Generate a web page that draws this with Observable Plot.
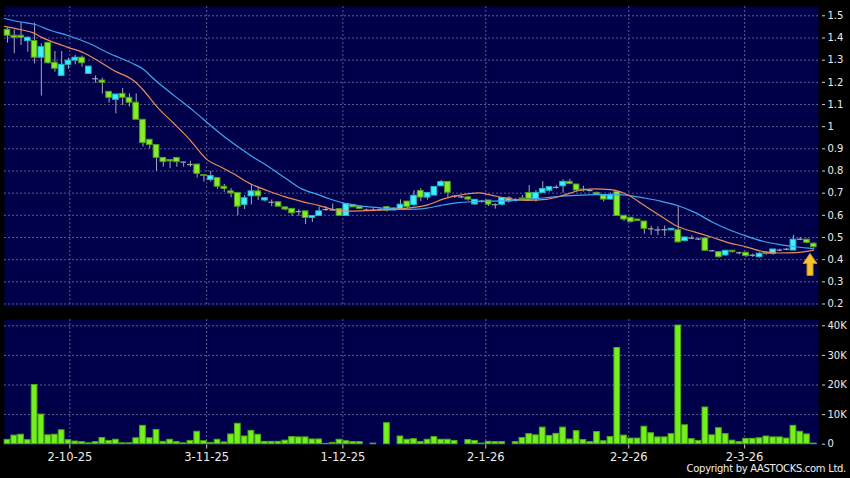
<!DOCTYPE html>
<html><head><meta charset="utf-8">
<script src="https://cdn.jsdelivr.net/npm/d3@7"></script>
<script src="https://cdn.jsdelivr.net/npm/@observablehq/plot@0.6"></script>
<style>
html,body{margin:0;padding:0;background:#000;width:850px;height:478px;overflow:hidden}
#chart{position:relative;width:850px;height:478px}
#chart svg{display:block}
#copy{position:absolute;right:4px;top:463px;color:#f0f0f0;font:10px "DejaVu Sans",sans-serif;letter-spacing:-0.3px;white-space:nowrap}
</style></head><body><div id="chart"><div id="copy">Copyright by AASTOCKS.com Ltd.</div></div>
<script>
// ---- data (one entry per trading day, index 0..119) ----
const opens = [1.437,1.410,1.410,1.386,1.386,1.311,1.378,1.288,1.229,1.279, 1.298,1.311,1.238,1.216,1.208,1.157,1.121,1.148,1.130,1.108, 1.031,0.941,0.917,0.859,0.850,0.859,0.840,0.829,0.829,0.781, 0.759,0.768,0.729,0.708,0.701,0.647,0.686,0.708,0.667,0.659, 0.659,0.636,0.629,0.617,0.618,0.588,0.597,0.626,0.624,0.628, 0.597,0.647,0.639,0.624,0.624,0.626,0.637,0.622,0.627,0.662, 0.646,0.710,0.680,0.689,0.731,0.751,0.686,0.683,0.681,0.649, 0.664,0.667,0.648,0.648,0.677,0.668,0.676,0.701,0.672,0.701, 0.711,0.726,0.731,0.751,0.739,0.716,0.712,0.701,0.690,0.671, 0.705,0.598,0.589,0.581,0.572,0.539,0.534,0.535,0.532,0.533, 0.484,0.497,0.493,0.496,0.440,0.434,0.419,0.440,0.431,0.431, 0.420,0.411,0.431,0.426,0.443,0.447,0.441,0.492,0.490,0.472];
const highs = [1.445,1.437,1.471,1.405,1.467,1.374,1.378,1.339,1.339,1.309, 1.321,1.318,1.271,1.229,1.219,1.157,1.145,1.172,1.148,1.148, 1.031,0.941,0.917,0.859,0.850,0.859,0.840,0.844,0.829,0.781, 0.799,0.768,0.739,0.720,0.701,0.689,0.739,0.724,0.680,0.669, 0.659,0.636,0.629,0.626,0.618,0.597,0.636,0.639,0.651,0.628, 0.651,0.647,0.639,0.628,0.630,0.630,0.640,0.633,0.670,0.662, 0.711,0.720,0.701,0.728,0.757,0.751,0.690,0.686,0.685,0.670, 0.668,0.667,0.652,0.678,0.684,0.675,0.690,0.734,0.712,0.752, 0.727,0.735,0.760,0.762,0.739,0.731,0.716,0.705,0.690,0.700, 0.707,0.600,0.589,0.581,0.572,0.550,0.548,0.552,0.539,0.639, 0.503,0.508,0.497,0.497,0.442,0.434,0.440,0.440,0.434,0.434, 0.425,0.430,0.434,0.446,0.447,0.450,0.509,0.500,0.492,0.476];
const lows = [1.377,1.329,1.366,1.336,1.283,1.138,1.283,1.246,1.229,1.258, 1.279,1.268,1.238,1.196,1.147,1.106,1.058,1.095,1.089,1.031, 0.908,0.900,0.799,0.817,0.810,0.817,0.817,0.817,0.768,0.750, 0.750,0.717,0.704,0.679,0.598,0.626,0.647,0.667,0.660,0.639, 0.639,0.620,0.595,0.595,0.558,0.568,0.597,0.618,0.620,0.597, 0.597,0.636,0.629,0.620,0.618,0.620,0.615,0.620,0.627,0.630, 0.640,0.662,0.668,0.689,0.731,0.680,0.676,0.675,0.664,0.645, 0.655,0.640,0.628,0.642,0.655,0.660,0.670,0.668,0.660,0.701, 0.705,0.718,0.700,0.738,0.706,0.705,0.706,0.690,0.660,0.671, 0.596,0.572,0.565,0.572,0.515,0.510,0.509,0.505,0.532,0.475, 0.480,0.490,0.486,0.437,0.435,0.407,0.415,0.430,0.422,0.410, 0.410,0.408,0.420,0.420,0.436,0.440,0.441,0.486,0.472,0.452];
const closes = [1.410,1.401,1.401,1.401,1.311,1.359,1.286,1.261,1.279,1.298, 1.311,1.286,1.271,1.216,1.198,1.130,1.145,1.130,1.108,1.031, 0.926,0.917,0.859,0.840,0.843,0.840,0.840,0.829,0.787,0.778, 0.777,0.729,0.719,0.699,0.639,0.677,0.708,0.686,0.677,0.659, 0.639,0.626,0.609,0.617,0.588,0.597,0.618,0.626,0.624,0.597, 0.651,0.636,0.629,0.624,0.624,0.626,0.622,0.631,0.648,0.637, 0.688,0.680,0.701,0.728,0.750,0.702,0.686,0.683,0.671,0.670, 0.664,0.648,0.648,0.678,0.662,0.668,0.672,0.674,0.701,0.719, 0.727,0.726,0.751,0.741,0.712,0.712,0.712,0.694,0.671,0.690, 0.597,0.581,0.570,0.574,0.539,0.539,0.534,0.535,0.539,0.478, 0.500,0.497,0.493,0.440,0.440,0.411,0.440,0.434,0.431,0.416, 0.420,0.427,0.426,0.446,0.443,0.447,0.490,0.492,0.476,0.456];
// volume in thousands of shares
const volumes = [1.46,2.9,3.2,1.35,20,10,3.0,3.2,4.7,1.35, 0.9,0.7,0.3,0.7,2.1,1.1,1.5,0.3,0.3,2.0, 6.2,2.0,4.8,0.8,1.5,0.7,0.3,1.1,4.2,1.0, 0.45,1.5,0.6,3.3,6.9,2.6,4.5,3.2,0.8,0.8, 0.8,1.2,2.4,2.3,2.3,1.6,1.6,0.1,0.45,1.5, 1.0,0.7,0.7,0,0.2,0,7.1,0,2.6,1.5, 1.7,0.7,1.5,2.4,1.5,1.5,1.1,0,1.4,1.1, 0.2,0.8,0.7,0.7,0,0.7,2.1,3.4,3.0,5.6, 2.8,3.5,5.6,1.6,4.4,1.4,0.7,4.1,1.0,2.4, 32.5,2.9,1.9,1.9,5.9,3.7,2.3,2.3,3.4,40.1, 6.4,1.7,1.1,12.4,3.0,5.4,3.4,1.2,0.7,1.8, 1.8,2.0,2.6,2.3,2.3,1.9,6.2,4.2,3.3,0.2];
// moving averages (day index, value)
const maFastIdx = [-0.44,2,3.9,5,8.8,11.3,13.7,15.7,18.6,20.1,22.1,24.6,27,29.5,31.7,33.5,36,38.5,41,43.5,46,48.5,50.5,53,55.5,58,60.5,62,64.4,67,69.5,71.5,74,76.5,79.5,82,84.2,86.5,89,90.5,91.8,94,96.5,99.1,101.5,104,106.5,109,111.3,113.8,116.4,119];
const maFastVal = [1.452,1.437,1.422,1.404,1.359,1.332,1.291,1.253,1.208,1.163,1.088,1.013,0.938,0.850,0.815,0.785,0.740,0.710,0.683,0.662,0.644,0.624,0.619,0.621,0.625,0.629,0.638,0.647,0.674,0.692,0.701,0.690,0.676,0.667,0.672,0.690,0.711,0.719,0.716,0.706,0.688,0.644,0.595,0.547,0.524,0.501,0.476,0.458,0.438,0.430,0.432,0.443];
const maSlowIdx = [-0.44,2,4,6,9,12,15,18.6,20,21.6,24.6,27.5,30,32.4,36,38.5,41,43.5,45.5,47.5,49.5,52,55,58,60.5,62,64,66.5,69,74,78,81,84,87,90,92,94,96.5,99,101.5,104,106.5,109,111.5,114,116.5,119];
const maSlowVal = [1.488,1.472,1.462,1.438,1.410,1.376,1.331,1.283,1.260,1.215,1.140,1.070,1.005,0.945,0.868,0.820,0.768,0.718,0.697,0.675,0.656,0.643,0.634,0.627,0.628,0.633,0.645,0.657,0.662,0.666,0.675,0.684,0.690,0.693,0.693,0.688,0.678,0.663,0.643,0.612,0.570,0.535,0.507,0.483,0.468,0.457,0.450];
const priceTicks = [0.2,0.3,0.4,0.5,0.6,0.7,0.8,0.9,1,1.1,1.2,1.3,1.4,1.5];
const volumeTicks = [0,10,20,30,40];
const dateTickIdx = [9.2,29.4,49.5,70.6,91.7,108.8];
const dateTickLabels = ["2-10-25","3-11-25","1-12-25","2-1-26","2-2-26","2-3-26"];
const arrowAt = {i: 118.45, price: 0.428};

// ---- styling ----
const NAVY = "#00004a", GRID = "#5a5a8c", WICK = "#a8a8b4";
const UP_FILL = "#3ff0ff", UP_EDGE = "#20b8c8", DN_FILL = "#84ee2c", DN_EDGE = "#4f9e1a";
const X_DOMAIN = [-0.44, 119.7];
const HALF = 0.42;

const candles = opens.map((o, i) => ({i, o, h: highs[i], l: lows[i], c: closes[i], up: closes[i] > o, flat: Math.abs(closes[i] - o) < 0.003, v: volumes[i]}));
const bodies = candles.filter(d => !d.flat);
const dojis = candles.filter(d => d.flat);
const maFast = maFastIdx.map((x, k) => ({x, y: maFastVal[k]}));
const maSlow = maSlowIdx.map((x, k) => ({x, y: maSlowVal[k]}));
const labelOf = new Map(dateTickIdx.map((d, k) => [d, dateTickLabels[k]]));

const arrowSymbol = {
  draw(ctx) {
    ctx.moveTo(0, 0); ctx.lineTo(7, 10); ctx.lineTo(3, 10); ctx.lineTo(3, 22);
    ctx.lineTo(-3, 22); ctx.lineTo(-3, 10); ctx.lineTo(-7, 10); ctx.closePath();
  }
};

const baseStyle = {background: "#000", color: "#ececec", fontFamily: "DejaVu Sans, sans-serif", fontSize: "10px", overflow: "visible"};

const pricePlot = Plot.plot({
  width: 850, height: 312,
  marginLeft: 4, marginRight: 32, marginTop: 6, marginBottom: 6,
  style: baseStyle,
  x: {domain: X_DOMAIN, axis: null},
  y: {domain: [0.1887, 1.542], axis: null},
  marks: [
    Plot.frame({fill: NAVY, stroke: null}),
    Plot.ruleY(priceTicks, {stroke: GRID, strokeDasharray: "2,2"}),
    Plot.ruleX(dateTickIdx, {stroke: GRID, strokeDasharray: "2,2"}),
    Plot.ruleX(candles, {x: "i", y1: "l", y2: "h", stroke: WICK, strokeWidth: 1}),
    Plot.rect(bodies, {x1: d => d.i - HALF, x2: d => d.i + HALF, y1: d => Math.min(d.o, d.c), y2: d => Math.max(d.o, d.c),
      fill: d => d.up ? UP_FILL : DN_FILL, stroke: d => d.up ? UP_EDGE : DN_EDGE, strokeWidth: 1}),
    Plot.ruleY(dojis, {x1: d => d.i - HALF, x2: d => d.i + HALF, y: "c", stroke: WICK, strokeWidth: 1.2}),
    Plot.line(maSlow, {x: "x", y: "y", stroke: "#3ea6ee", strokeWidth: 1.2, curve: "monotone-x"}),
    Plot.line(maFast, {x: "x", y: "y", stroke: "#e88a5c", strokeWidth: 1.2, curve: "monotone-x"}),
    Plot.dot([arrowAt], {x: "i", y: "price", symbol: arrowSymbol, fill: "#f6c232", stroke: "#d08a12", strokeWidth: 1}),
    Plot.axisY({anchor: "right", label: null, ticks: priceTicks, tickFormat: d => String(d), tickSize: 3, tickPadding: 3, dx: 3, stroke: "#cfcfcf", fill: "#ececec"})
  ]
});

const volPlot = Plot.plot({
  width: 850, height: 166,
  marginLeft: 4, marginRight: 32, marginTop: 7, marginBottom: 33.5,
  style: baseStyle,
  x: {domain: X_DOMAIN, axis: null},
  y: {domain: [-0.27, 42.13], axis: null},
  marks: [
    Plot.frame({fill: NAVY, stroke: null}),
    Plot.ruleY(volumeTicks.filter(d => d > 0), {stroke: GRID, strokeDasharray: "2,2"}),
    Plot.ruleX(dateTickIdx, {stroke: GRID, strokeDasharray: "2,2"}),
    Plot.rect(candles.filter(d => d.v > 0), {x1: d => d.i - HALF, x2: d => d.i + HALF, y1: 0, y2: "v", fill: "#74f01e", stroke: "#4cae12", strokeWidth: 1}),
    Plot.axisY({anchor: "right", label: null, ticks: volumeTicks, tickFormat: d => d === 0 ? "0" : d + "K", tickSize: 3, tickPadding: 3, dx: 3, stroke: "#cfcfcf", fill: "#ececec"}),
    Plot.axisX({label: null, ticks: dateTickIdx, tickFormat: d => labelOf.get(d), tickSize: 4, tickPadding: 4, stroke: "#cfcfcf", fill: "#ececec", fontSize: 11.5})
  ]
});

const root = document.getElementById("chart");
root.insertBefore(volPlot, root.firstChild);
root.insertBefore(pricePlot, root.firstChild);
</script></body></html>
